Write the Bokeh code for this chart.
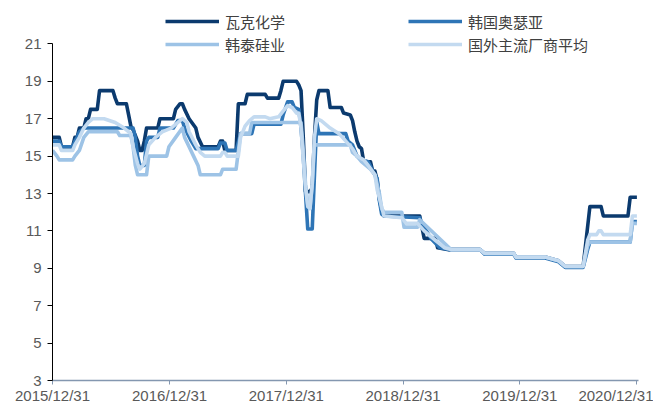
import numpy as np
import pandas as pd
from bokeh.plotting import figure
from bokeh.models import (Legend, LegendItem, FixedTicker, DatetimeTickFormatter,
                          Range1d, ColumnDataSource)
from bokeh.embed import file_html
from bokeh.resources import INLINE

# ---------------- data ----------------
START = "2015-12-31"          # week 0 (weekly data)
tick_labels = ["2015/12/31", "2016/12/31", "2017/12/31", "2018/12/31", "2019/12/31", "2020/12/31"]
y_ticks = [3, 5, 7, 9, 11, 13, 15, 17, 19, 21]

names = ["瓦克化学", "韩国奥瑟亚", "韩泰硅业", "国外主流厂商平均"]
colors = ["#0B3A6E", "#2E75B6", "#9DC3E6", "#C3DAF0"]

wacker_weeks = [0, 3, 4, 9, 10, 11, 12, 14, 15, 16, 17, 20, 21, 27, 28, 29, 33, 34, 35, 36,
                38, 39, 40, 41, 42, 47, 48, 54, 55, 57, 58, 59, 61, 64, 65, 67, 74, 75, 76, 77,
                82, 83, 86, 87, 95, 96, 101, 102, 103, 109, 110, 111, 112, 113, 115, 116, 117, 118, 119, 123,
                124, 129, 130, 133, 134, 135, 136, 137, 138, 139, 142, 143, 144, 145, 146, 147, 148, 164, 165, 166,
                171, 172, 177, 191, 193, 206, 207, 220, 226, 229, 237, 240, 245, 246, 257, 258, 261]
wacker_vals = [16.0, 16.0, 15.5, 15.5, 16.0, 16.0, 16.5, 16.5, 17.0, 17.0, 17.5, 17.5, 18.5, 18.5, 18.1, 17.8, 17.8, 17.2, 16.6, 16.4,
               15.8, 15.3, 15.3, 15.8, 16.5, 16.5, 17.0, 17.0, 17.5, 17.8, 17.8, 17.5, 17.0, 16.5, 16.0, 15.5, 15.5, 15.8, 15.8, 15.3,
               15.3, 17.8, 17.8, 18.3, 18.3, 18.1, 18.1, 18.5, 19.0, 19.0, 18.8, 18.5, 16.0, 13.1, 13.1, 13.3, 16.0, 18.0, 18.5, 18.5,
               17.6, 17.6, 17.3, 17.2, 16.9, 16.3, 15.8, 15.5, 15.4, 14.7, 14.7, 14.2, 14.2, 13.7, 12.7, 12.1, 11.8, 11.8, 11.2, 10.6,
               10.6, 10.1, 10.0, 10.0, 9.8, 9.8, 9.6, 9.6, 9.4, 9.1, 9.1, 12.3, 12.3, 11.8, 11.8, 12.8, 12.8]

oci_weeks = [0, 3, 4, 9, 10, 11, 12, 14, 36, 37, 38, 39, 41, 42, 43, 47, 48, 54, 56, 58,
             59, 62, 64, 74, 75, 77, 78, 82, 84, 89, 90, 102, 103, 105, 107, 108, 110, 111, 112, 113,
             114, 116, 117, 118, 119, 131, 132, 134, 136, 138, 141, 143, 145, 146, 147, 148, 164, 165, 167, 169,
             173, 177, 191, 193, 206, 207, 220, 226, 229, 237, 239, 240, 258, 259, 261]
oci_vals = [15.8, 15.8, 15.5, 15.5, 15.8, 16.0, 16.3, 16.5, 16.5, 16.0, 15.0, 14.5, 14.5, 15.8, 16.0, 16.0, 16.5, 16.5, 16.9, 16.9,
            16.5, 15.8, 15.4, 15.4, 15.7, 15.7, 15.3, 15.3, 16.2, 16.2, 16.7, 16.7, 17.2, 17.9, 17.9, 17.6, 17.5, 16.5, 15.0, 13.0,
            11.1, 11.1, 14.0, 16.8, 16.2, 16.2, 15.8, 15.6, 15.0, 14.8, 14.7, 14.2, 13.8, 12.6, 11.9, 11.8, 11.7, 11.3, 11.0, 10.6,
            10.1, 10.0, 10.0, 9.75, 9.75, 9.55, 9.55, 9.35, 9.05, 9.05, 10.0, 10.4, 10.4, 11.5, 11.5]

hankook_weeks = [0, 2, 3, 9, 10, 12, 14, 16, 29, 30, 35, 36, 37, 38, 42, 43, 51, 52, 55, 58,
                 59, 61, 63, 65, 66, 75, 76, 82, 84, 88, 89, 111, 112, 113, 114, 115, 116, 117, 133, 134,
                 136, 138, 142, 144, 146, 147, 148, 156, 157, 163, 164, 178, 191, 193, 206, 207, 220, 226, 229, 237,
                 239, 240, 258, 259, 261]
hankook_vals = [15.3, 15.0, 14.8, 14.8, 15.0, 15.3, 16.0, 16.3, 16.3, 16.1, 16.1, 15.5, 14.5, 14.0, 14.0, 15.0, 15.0, 15.5, 16.0, 16.5,
                16.0, 15.5, 15.0, 14.5, 14.0, 14.0, 14.3, 14.3, 16.2, 16.2, 16.8, 16.8, 15.3, 13.5, 12.4, 12.2, 13.5, 15.6, 15.6, 15.2,
                15.0, 14.7, 14.3, 14.0, 13.0, 12.2, 12.0, 12.0, 11.2, 11.2, 11.6, 10.0, 10.0, 9.8, 9.8, 9.6, 9.6, 9.4, 9.1, 9.1,
                10.2, 10.4, 10.4, 11.4, 11.4]

avg_weeks = [0, 3, 4, 9, 10, 12, 14, 16, 18, 23, 28, 32, 35, 36, 38, 39, 41, 43, 46, 49,
             53, 56, 58, 60, 61, 64, 66, 68, 75, 76, 77, 78, 83, 84, 86, 88, 90, 95, 97, 101,
             103, 105, 107, 109, 110, 111, 112, 113, 114, 115, 116, 117, 118, 120, 124, 128, 131, 134, 136, 139,
             141, 144, 145, 147, 148, 156, 158, 163, 166, 171, 175, 178, 191, 193, 206, 207, 220, 226, 229, 237,
             239, 240, 243, 244, 245, 246, 258, 259, 261]
avg_vals = [15.6, 15.6, 15.3, 15.3, 15.6, 16.0, 16.5, 16.8, 17.0, 17.0, 16.8, 16.5, 16.2, 15.5, 14.6, 14.3, 14.6, 15.6, 16.0, 16.3,
            16.5, 16.8, 17.0, 16.8, 16.3, 15.6, 15.2, 15.0, 15.0, 15.2, 15.2, 15.0, 15.0, 16.0, 16.6, 16.9, 17.1, 17.1, 17.0, 17.1,
            17.4, 17.7, 17.6, 17.3, 17.3, 16.5, 14.8, 13.3, 12.3, 12.2, 13.5, 16.0, 17.0, 16.9, 16.5, 16.2, 15.8, 15.4, 15.0, 14.8,
            14.5, 14.0, 13.2, 12.3, 11.8, 11.7, 11.4, 11.4, 11.0, 10.5, 10.1, 10.0, 10.0, 9.8, 9.8, 9.6, 9.6, 9.4, 9.1, 9.1,
            10.5, 10.8, 10.8, 11.0, 11.0, 10.8, 10.8, 11.8, 11.8]

series = [(wacker_weeks, wacker_vals), (oci_weeks, oci_vals),
          (hankook_weeks, hankook_vals), (avg_weeks, avg_vals)]

# ---------------- figure ----------------
start = pd.Timestamp(START)
def to_dates(weeks):
    return start + pd.to_timedelta(np.asarray(weeks) * 7, unit="D")

tick_dates = pd.to_datetime(tick_labels, format="%Y/%m/%d")
tick_ms = [int((d - pd.Timestamp("1970-01-01")) / pd.Timedelta("1ms")) for d in tick_dates]

# frame extends above 21 so the legend (drawn inside the frame) is not clipped;
# the y axis line itself is bounded to 3..21
p = figure(width=653, height=406, output_backend="svg", toolbar_location=None,
           x_axis_type="datetime",
           x_range=Range1d(start, pd.Timestamp("2021-01-05")),
           y_range=Range1d(3, 23.0))
p.min_border_left = 52
p.min_border_right = 15
p.min_border_top = 6
p.min_border_bottom = 21
p.outline_line_color = None
p.grid.visible = False
p.background_fill_color = "white"
p.border_fill_color = "white"

renderers = []
for (wk, vals), c in zip(series, colors):
    src = ColumnDataSource(dict(x=to_dates(wk), y=vals))
    r = p.line("x", "y", source=src, line_color=c, line_width=3.6, line_join="round")
    renderers.append(r)

# axes
xa = p.xaxis[0]
xa.ticker = FixedTicker(ticks=tick_ms)
fmt = "%Y/%m/%d"
xa.formatter = DatetimeTickFormatter(milliseconds=fmt, seconds=fmt, minsec=fmt, minutes=fmt,
                                     hourmin=fmt, hours=fmt, days=fmt, months=fmt, years=fmt)
xa.axis_line_color = "#8497B0"
xa.axis_line_width = 1.5
xa.major_tick_line_color = "#8497B0"
xa.major_tick_out = 4
xa.major_tick_in = 0
xa.minor_tick_line_color = None
xa.major_label_text_font = "Liberation Sans"
xa.major_label_text_font_size = "15px"
xa.major_label_text_color = "#595959"
xa.major_label_standoff = 2

ya = p.yaxis[0]
ya.ticker = FixedTicker(ticks=y_ticks)
ya.bounds = (3, 21)
ya.axis_line_color = "black"
ya.axis_line_width = 1
ya.major_tick_line_color = "black"
ya.major_tick_out = 5
ya.major_tick_in = 0
ya.minor_tick_line_color = None
ya.major_label_text_font = "Liberation Sans"
ya.major_label_text_font_size = "15px"
ya.major_label_text_color = "#595959"
ya.major_label_standoff = 6

# legends (two columns); location = bottom-left corner in frame pixels
def make_legend(idx, x, y):
    items = [LegendItem(label=names[i], renderers=[renderers[i]]) for i in idx]
    lg = Legend(items=items, location=(x, y), orientation="vertical",
                padding=0, margin=0, spacing=1,
                glyph_width=54, glyph_height=22, label_height=22, label_standoff=6,
                label_text_font="Noto Sans CJK SC", label_text_font_size="15px",
                label_text_color="#404040",
                border_line_color=None, background_fill_alpha=0)
    return lg

p.add_layout(make_legend([0, 2], 113, 325))
p.add_layout(make_legend([1, 3], 356, 325))

open("out.html", "w").write(file_html(p, INLINE))
